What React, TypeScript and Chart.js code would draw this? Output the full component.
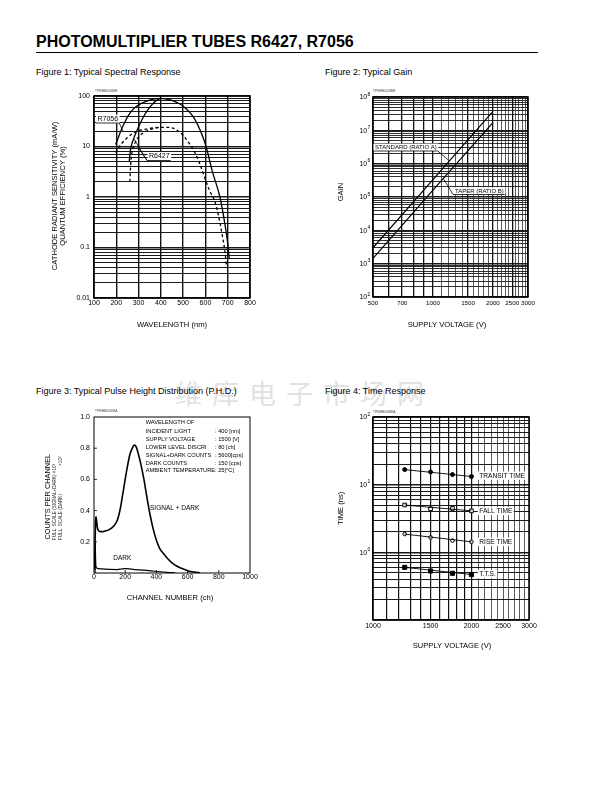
import React, { useEffect, useRef } from 'react';
import { Chart, registerables } from 'chart.js';

Chart.register(...registerables);

const FONT = 'Arial, "Liberation Sans", Helvetica, sans-serif';

// ---------- Figure 1: Typical Spectral Response ----------
const specR7056SensNm = [197, 209, 220, 231, 254, 276, 306, 336, 366, 396, 420, 450, 496, 550, 600, 632, 665, 688, 700, 707];
const specR7056SensVal = [11, 15, 20, 26, 41, 55, 69, 79, 87, 90, 88, 82, 65, 36, 11, 3.1, 1.0, 0.28, 0.12, 0.06];
const specR6427SensNm = [258, 262, 268, 276, 291, 306, 321, 336, 351, 366, 381, 396];
const specR6427SensVal = [5, 7.5, 10.5, 13.5, 20, 28, 38, 49, 60, 72, 82, 89];
const specR7056QeNm = [198, 210, 231, 250, 276, 300, 321, 350, 396, 430, 456, 480, 500, 525, 550, 575, 600, 620, 643, 660, 675, 688, 695];
const specR7056QeVal = [7.5, 9.5, 12.4, 15, 18.4, 20.5, 21.5, 22.8, 24, 24, 23, 20, 16.5, 12, 8, 4.5, 2.2, 1.3, 0.8, 0.4, 0.18, 0.08, 0.04];
const specR6427QeNm = [261, 264, 268, 276, 291, 306, 330, 351, 375, 396];
const specR6427QeVal = [2, 4, 6.5, 9.5, 13.5, 16.5, 19.5, 21.5, 23, 24];
const specXTicks = [100, 200, 300, 400, 500, 600, 700, 800];
const specYDecades = [0.01, 0.1, 1, 10, 100];
const specYLabels = ['0.01', '0.1', '1', '10', '100'];

// ---------- Figure 2: Typical Gain ----------
const gainVolt = [500, 1000, 2000];
const gainStandard = [3.0e3, 3.3e5, 3.7e7];
const gainTaper = [1.45e3, 1.6e5, 1.7e7];
const gainXLabels = [500, 700, 1000, 1500, 2000, 2500, 3000];
const gainYExp = [2, 3, 4, 5, 6, 7, 8];

// ---------- Figure 3: Pulse Height Distribution ----------
const phdSigCh = [4, 7, 10, 13, 17, 22, 30, 40, 55, 75, 100, 125, 150, 170, 190, 210, 230, 245, 258, 270, 285, 300, 320, 340, 360, 380, 400, 420, 445, 470, 500, 530, 560, 600, 640, 680];
const phdSigVal = [0.02, 0.2, 0.33, 0.36, 0.33, 0.29, 0.27, 0.265, 0.265, 0.27, 0.28, 0.3, 0.34, 0.42, 0.54, 0.66, 0.76, 0.8, 0.82, 0.81, 0.76, 0.7, 0.6, 0.48, 0.37, 0.28, 0.21, 0.16, 0.125, 0.095, 0.065, 0.045, 0.03, 0.015, 0.006, 0.002];
const phdDarkCh = [7, 8, 10, 13, 20, 50, 100, 150, 180, 200, 230, 270, 320, 370, 420, 470, 520];
const phdDarkVal = [0, 0.2, 0.1, 0.04, 0.03, 0.026, 0.023, 0.022, 0.027, 0.028, 0.026, 0.022, 0.018, 0.013, 0.008, 0.004, 0.001];
const phdXTicks = [0, 200, 400, 600, 800, 1000];
const phdYTicks = [0, 0.2, 0.4, 0.6, 0.8, 1.0];
const phdInfoKeys = ['WAVELENGTH OF', 'INCIDENT LIGHT', 'SUPPLY VOLTAGE', 'LOWER LEVEL DISCRI', 'SIGNAL+DARK COUNTS', 'DARK COUNTS', 'AMBIENT TEMPERATURE'];
const phdInfoVals = ['', ': 400 [nm]', ': 1500 [V]', ': 80 [ch]', ': 5600[cps]', ': 150 [cps]', ': 25[°C]'];

// ---------- Figure 4: Time Response ----------
const trVolt = [1250, 1500, 1750, 2000];
const trTransit = [16.7, 15.4, 14.1, 13.2];
const trFall = [5.0, 4.4, 4.45, 4.1];
const trRise = [1.86, 1.66, 1.49, 1.43];
const trTts = [0.6, 0.53, 0.49, 0.47];
const trXLabels = [1000, 1500, 2000, 2500, 3000];
const trYExp = [0, 1, 2];

// ---------- helpers ----------
const pts = (xs: number[], ys: number[]) => xs.map((x, i) => ({ x, y: ys[i] }));
const stepTicks = (a: number, b: number, s: number) => {
  const r: number[] = [];
  for (let v = a; v <= b + 1e-9; v += s) r.push(+v.toFixed(6));
  return r;
};
const logTicks = (min: number, max: number) => {
  const r: number[] = [];
  for (let e = Math.floor(Math.log10(min)); e <= Math.ceil(Math.log10(max)); e++) {
    for (let m = 1; m < 10; m++) {
      const v = +(m * Math.pow(10, e)).toPrecision(6);
      if (v >= min * 0.999999 && v <= max * 1.000001) r.push(v);
    }
  }
  return r;
};
const isDecade = (v: number) => Math.abs(Math.log10(v) - Math.round(Math.log10(v))) < 1e-6;
const near = (v: number, list: number[]) => list.some((t) => Math.abs(t - v) < 1e-6 * Math.max(1, Math.abs(t)));

type AxisOpt = {
  type: 'linear' | 'logarithmic';
  min: number;
  max: number;
  ticks: number[];
  size: number;
  vertical: boolean;
  pad: number;
  fontSize?: number;
  label?: (v: number) => string;
  gridWidth?: (v: number) => number;
  gridColor?: (v: number) => string;
};
function axis(o: AxisOpt) {
  return {
    type: o.type,
    min: o.min,
    max: o.max,
    afterBuildTicks: (s: any) => {
      s.ticks = o.ticks.map((v) => ({ value: v }));
    },
    afterFit: (s: any) => {
      if (o.vertical) s.width = o.size;
      else s.height = o.size;
      s.paddingLeft = 0;
      s.paddingRight = 0;
      s.paddingTop = 0;
      s.paddingBottom = 0;
    },
    border: { display: false },
    grid: o.gridWidth
      ? {
          display: true,
          drawTicks: false,
          color: (c: any) => (c.tick && o.gridColor ? o.gridColor(c.tick.value) : '#111'),
          lineWidth: (c: any) => (c.tick && o.gridWidth ? o.gridWidth(c.tick.value) : 1),
        }
      : { display: false, drawTicks: false },
    ticks: {
      autoSkip: false,
      maxRotation: 0,
      minRotation: 0,
      padding: o.pad,
      color: '#000',
      font: { family: FONT, size: o.fontSize || 7 },
      callback: (v: any) => (o.label ? o.label(Number(v)) : ''),
    },
  };
}

function baseOptions(pad: { top: number; right: number }) {
  return {
    responsive: false,
    animation: false as const,
    devicePixelRatio: 1,
    events: [] as any[],
    layout: { autoPadding: false, padding: { left: 0, right: pad.right, top: pad.top, bottom: 0 } },
    plugins: { legend: { display: false }, tooltip: { enabled: false }, title: { display: false } },
  };
}

type TOpt = { rot?: number; color?: string; bg?: boolean; bold?: boolean };
function text(ctx: CanvasRenderingContext2D, s: string, x: number, y: number, size: number, align: CanvasTextAlign = 'left', o: TOpt = {}) {
  ctx.save();
  ctx.font = `${o.bold ? 'bold ' : ''}${size}px ${FONT}`;
  ctx.textAlign = align;
  ctx.textBaseline = 'middle';
  ctx.translate(x, y);
  if (o.rot) ctx.rotate(o.rot);
  const w = ctx.measureText(s).width;
  if (o.bg) {
    const x0 = align === 'center' ? -w / 2 : align === 'right' ? -w : 0;
    ctx.fillStyle = '#fff';
    ctx.fillRect(x0 - 1.5, -size * 0.62, w + 3, size * 1.24);
  }
  ctx.fillStyle = o.color || '#000';
  ctx.fillText(s, 0, 0);
  ctx.restore();
  return w;
}
function poly(ctx: CanvasRenderingContext2D, p: number[][], lw = 0.8) {
  ctx.save();
  ctx.strokeStyle = '#000';
  ctx.lineWidth = lw;
  ctx.beginPath();
  p.forEach(([x, y], i) => (i ? ctx.lineTo(x, y) : ctx.moveTo(x, y)));
  ctx.stroke();
  ctx.restore();
}
function pow10(ctx: CanvasRenderingContext2D, e: number, xr: number, y: number) {
  ctx.save();
  ctx.fillStyle = '#000';
  ctx.textBaseline = 'middle';
  ctx.textAlign = 'left';
  ctx.font = `7px ${FONT}`;
  const wb = ctx.measureText('10').width;
  ctx.font = `5px ${FONT}`;
  const we = ctx.measureText(String(e)).width;
  const x0 = xr - wb - we;
  ctx.font = `7px ${FONT}`;
  ctx.fillText('10', x0, y + 0.5);
  ctx.font = `5px ${FONT}`;
  ctx.fillText(String(e), x0 + wb + 0.3, y - 2.8);
  ctx.restore();
}
const frame = (lw: number) => ({
  id: 'frame',
  afterDatasetsDraw(chart: any) {
    const { ctx, chartArea: a } = chart;
    ctx.save();
    ctx.strokeStyle = '#000';
    ctx.lineWidth = lw;
    ctx.strokeRect(a.left, a.top, a.right - a.left, a.bottom - a.top);
    ctx.restore();
  },
});
const ROT = -Math.PI / 2;

// ---------- chart builders ----------
function makeSpectral(cv: HTMLCanvasElement) {
  const solid = { borderColor: '#000', borderWidth: 1.3, pointRadius: 0, cubicInterpolationMode: 'monotone' as const, fill: false };
  const dashed = { ...solid, borderDash: [3, 2.5] };
  return new Chart(cv, {
    type: 'line',
    data: {
      datasets: [
        { ...solid, data: pts(specR7056SensNm, specR7056SensVal) },
        { ...solid, data: pts(specR6427SensNm, specR6427SensVal) },
        { ...dashed, data: pts(specR7056QeNm, specR7056QeVal) },
        { ...dashed, data: pts(specR6427QeNm, specR6427QeVal) },
      ],
    },
    options: {
      ...baseOptions({ top: 11, right: 10 }),
      scales: {
        x: axis({ type: 'linear', min: 100, max: 800, ticks: specXTicks, size: 37, vertical: false, pad: 1, label: (v) => String(v), gridWidth: () => 1.4, gridColor: () => '#111' }),
        y: axis({
          type: 'logarithmic', min: 0.01, max: 100, ticks: logTicks(0.01, 100), size: 64, vertical: true, pad: 4,
          label: (v) => { const i = specYDecades.findIndex((d) => Math.abs(d - v) < d * 1e-6); return i >= 0 ? specYLabels[i] : ''; },
          gridWidth: (v) => (isDecade(v) ? 1.5 : 1), gridColor: () => '#1a1a1a',
        }),
      },
    } as any,
    plugins: [
      frame(1.5),
      {
        id: 'deco1',
        afterDraw(chart: any) {
          const ctx = chart.ctx as CanvasRenderingContext2D;
          text(ctx, 'TPMHB0026EB', 65, 6, 3.2, 'left', { color: '#444' });
          text(ctx, 'CATHODE RADIANT SENSITIVITY (mA/W)', 25, 111, 7.6, 'center', { rot: ROT });
          text(ctx, 'QUANTUM EFFICIENCY (%)', 33, 111, 7.6, 'center', { rot: ROT });
          text(ctx, 'WAVELENGTH (nm)', 142, 239.5, 7.6, 'center');
          const w1 = text(ctx, 'R7056', 67.5, 34, 7, 'left', { bg: true });
          poly(ctx, [[66, 38], [67.5 + w1 + 1, 38], [93, 46]]);
          const w2 = text(ctx, 'R6427', 119, 71.5, 7, 'left', { bg: true });
          poly(ctx, [[119 + w2 + 1, 75.5], [117, 75.5], [104, 54]]);
          poly(ctx, [[117, 75.5], [108, 62]]);
        },
      },
    ],
  });
}

function makeGain(cv: HTMLCanvasElement) {
  const ln = { borderColor: '#000', borderWidth: 1.2, pointRadius: 0, tension: 0, fill: false };
  return new Chart(cv, {
    type: 'line',
    data: {
      datasets: [
        { ...ln, data: pts(gainVolt, gainStandard) },
        { ...ln, data: pts(gainVolt, gainTaper) },
      ],
    },
    options: {
      ...baseOptions({ top: 12, right: 22 }),
      scales: {
        x: axis({
          type: 'logarithmic', min: 500, max: 3000, ticks: stepTicks(500, 3000, 100), size: 38, vertical: false, pad: 3, fontSize: 6.2,
          label: (v) => (near(v, gainXLabels) ? String(v) : ''),
          gridWidth: (v) => (v <= 1000 || v % 500 === 0 ? 1.3 : 0.8), gridColor: (v) => (v <= 1000 || v % 500 === 0 ? '#111' : '#333'),
        }),
        y: axis({
          type: 'logarithmic', min: 100, max: 1e8, ticks: logTicks(100, 1e8), size: 53, vertical: true, pad: 3,
          gridWidth: (v) => (isDecade(v) ? 1.4 : 0.9), gridColor: () => '#1a1a1a',
        }),
      },
    } as any,
    plugins: [
      frame(1.5),
      {
        id: 'deco2',
        afterDraw(chart: any) {
          const ctx = chart.ctx as CanvasRenderingContext2D;
          const y = chart.scales.y;
          gainYExp.forEach((e) => pow10(ctx, e, chart.chartArea.left - 3, y.getPixelForValue(Math.pow(10, e))));
          text(ctx, 'TPMHB0023EB', 53, 6, 3.2, 'left', { color: '#444' });
          text(ctx, 'GAIN', 20.7, 107, 7.6, 'center', { rot: ROT });
          text(ctx, 'SUPPLY VOLTAGE (V)', 127, 239.5, 7.6, 'center');
          const w1 = text(ctx, 'STANDARD (RATIO A)', 55, 62.3, 6, 'left', { bg: true });
          poly(ctx, [[53, 66], [55 + w1 + 1, 66], [128.3, 75]]);
          const w2 = text(ctx, 'TAPER (RATIO B)', 135, 106, 6, 'left', { bg: true });
          poly(ctx, [[135 + w2 + 1, 109.5], [133, 109.5], [123.3, 93.3]]);
        },
      },
    ],
  });
}

function makePhd(cv: HTMLCanvasElement) {
  const ln = { borderColor: '#000', pointRadius: 0, cubicInterpolationMode: 'monotone' as const, fill: false };
  return new Chart(cv, {
    type: 'line',
    data: {
      datasets: [
        { ...ln, borderWidth: 1.6, data: pts(phdSigCh, phdSigVal) },
        { ...ln, borderWidth: 1.2, data: pts(phdDarkCh, phdDarkVal) },
      ],
    },
    options: {
      ...baseOptions({ top: 37, right: 20 }),
      scales: {
        x: axis({ type: 'linear', min: 0, max: 1000, ticks: phdXTicks, size: 67, vertical: false, pad: 0, label: (v) => String(v) }),
        y: axis({ type: 'linear', min: 0, max: 1, ticks: phdYTicks, size: 64, vertical: true, pad: 4, label: (v) => (v === 0 ? '' : v.toFixed(1)) }),
      },
    } as any,
    plugins: [
      frame(1),
      {
        id: 'deco3',
        afterDraw(chart: any) {
          const ctx = chart.ctx as CanvasRenderingContext2D;
          const a = chart.chartArea;
          const xs = chart.scales.x;
          const ys = chart.scales.y;
          phdXTicks.slice(1, -1).forEach((v) => {
            const px = xs.getPixelForValue(v);
            poly(ctx, [[px, a.bottom], [px, a.bottom - 3]], 0.8);
          });
          phdYTicks.slice(1, -1).forEach((v) => {
            const py = ys.getPixelForValue(v);
            poly(ctx, [[a.left, py], [a.left + 3, py]], 0.8);
          });
          text(ctx, 'TPMHB0020EA', 65, 31, 3.2, 'left', { color: '#444' });
          text(ctx, 'COUNTS PER CHANNEL', 18.3, 116.7, 7.4, 'center', { rot: ROT });
          ctx.save();
          ctx.translate(25, 160);
          ctx.rotate(ROT);
          text(ctx, 'FULL  SCALE (SIGNAL+DARK) ×10³', 0, 0, 4.6, 'left', { color: '#222' });
          ctx.restore();
          ctx.save();
          ctx.translate(30.3, 160);
          ctx.rotate(ROT);
          text(ctx, 'FULL  SCALE (DARK)', 0, 0, 4.6, 'left', { color: '#222' });
          text(ctx, ': ×10²', 83.5, 0, 4.6, 'right', { color: '#222' });
          ctx.restore();
          const rows = [42.3, 51.5, 59.3, 67.3, 75.3, 83, 90.7];
          phdInfoKeys.forEach((k, i) => {
            text(ctx, k, 115.7, rows[i], 5.7, 'left');
            if (phdInfoVals[i]) text(ctx, phdInfoVals[i], 185, rows[i], 5.7, 'left');
          });
          text(ctx, 'SIGNAL + DARK', 120, 128.3, 6.5, 'left');
          text(ctx, 'DARK', 83.3, 178.3, 6.5, 'left');
          text(ctx, 'CHANNEL NUMBER (ch)', 140, 218.3, 7.6, 'center');
        },
      },
    ],
  });
}

function makeTime(cv: HTMLCanvasElement) {
  const fit = (ys: number[]) => ({
    borderColor: '#000', borderWidth: 0.9, pointRadius: 0, tension: 0, fill: false,
    data: [{ x: trVolt[0], y: ys[0] }, { x: trVolt[trVolt.length - 1], y: ys[ys.length - 1] }],
  });
  const mk = (ys: number[], style: string, r: number, filled: boolean) => ({
    showLine: false, data: pts(trVolt, ys), pointStyle: style, pointRadius: r,
    pointBackgroundColor: filled ? '#000' : '#fff', pointBorderColor: '#000', pointBorderWidth: 1,
  });
  return new Chart(cv, {
    type: 'line',
    data: {
      datasets: [
        fit(trTransit), fit(trFall), fit(trRise), fit(trTts),
        mk(trTransit, 'circle', 2, true),
        mk(trFall, 'rect', 2.6, false),
        mk(trRise, 'circle', 1.8, false),
        mk(trTts, 'rect', 2.9, true),
      ] as any,
    },
    options: {
      ...baseOptions({ top: 37, right: 21 }),
      scales: {
        x: axis({
          type: 'logarithmic', min: 1000, max: 3000, ticks: stepTicks(1000, 3000, 100), size: 40, vertical: false, pad: 2,
          label: (v) => (near(v, trXLabels) ? String(v) : ''),
          gridWidth: (v) => (v <= 2000 ? 1.2 : 0.8), gridColor: (v) => (v <= 2000 ? '#111' : '#333'),
        }),
        y: axis({
          type: 'logarithmic', min: 0.1, max: 100, ticks: logTicks(0.1, 100), size: 53, vertical: true, pad: 3,
          gridWidth: (v) => (isDecade(v) ? 1.5 : 1), gridColor: () => '#1a1a1a',
        }),
      },
    } as any,
    plugins: [
      frame(1.5),
      {
        id: 'deco4',
        afterDraw(chart: any) {
          const ctx = chart.ctx as CanvasRenderingContext2D;
          const y = chart.scales.y;
          trYExp.forEach((e) => pow10(ctx, e, chart.chartArea.left - 3, y.getPixelForValue(Math.pow(10, e))));
          text(ctx, 'TPMHB0038EA', 53, 32, 3.2, 'left', { color: '#444' });
          text(ctx, 'TIME (ns)', 20.7, 128.3, 7.6, 'center', { rot: ROT });
          text(ctx, 'SUPPLY VOLTAGE (V)', 132, 265.7, 7.6, 'center');
          text(ctx, 'TRANSIT TIME', 159.3, 95.7, 6.6, 'left', { bg: true });
          text(ctx, 'FALL TIME', 159.3, 131, 6.6, 'left', { bg: true });
          text(ctx, 'RISE TIME', 159.3, 161.7, 6.6, 'left', { bg: true });
          text(ctx, 'T.T.S.', 159.3, 194, 6.6, 'left', { bg: true });
        },
      },
    ],
  });
}

const cap: React.CSSProperties = { position: 'absolute', fontSize: 9, lineHeight: '9px', whiteSpace: 'nowrap', color: '#000' };

export default function App() {
  const c1 = useRef<HTMLCanvasElement>(null);
  const c2 = useRef<HTMLCanvasElement>(null);
  const c3 = useRef<HTMLCanvasElement>(null);
  const c4 = useRef<HTMLCanvasElement>(null);
  useEffect(() => {
    const charts = [makeSpectral(c1.current!), makeGain(c2.current!), makePhd(c3.current!), makeTime(c4.current!)];
    return () => charts.forEach((c) => c.destroy());
  }, []);
  return (
    <div style={{ position: 'absolute', left: 0, top: 0, width: 612, height: 792, background: '#fff', fontFamily: FONT, overflow: 'hidden' }}>
      <div style={{ position: 'absolute', left: 175, top: 379, fontFamily: '"Noto Sans CJK SC"', fontSize: 27, lineHeight: '27px', color: '#e2e2e2', letterSpacing: 10, whiteSpace: 'nowrap' }}>维库电子市场网</div>
      <div style={{ position: 'absolute', left: 36, top: 34, fontSize: 16, lineHeight: '16px', fontWeight: 'bold', whiteSpace: 'nowrap' }}>PHOTOMULTIPLIER TUBES R6427, R7056</div>
      <div style={{ position: 'absolute', left: 36, top: 52, width: 502, height: 1, background: '#000' }} />
      <div style={{ ...cap, left: 36, top: 67.5 }}>Figure 1: Typical Spectral Response</div>
      <div style={{ ...cap, left: 325, top: 67.5 }}>Figure 2: Typical Gain</div>
      <div style={{ ...cap, left: 36, top: 387.3 }}>Figure 3: Typical Pulse Height Distribution (P.H.D.)</div>
      <div style={{ ...cap, left: 325, top: 387.3 }}>Figure 4: Time Response</div>
      <canvas ref={c1} width={230} height={250} style={{ position: 'absolute', left: 30, top: 85 }} />
      <canvas ref={c2} width={230} height={250} style={{ position: 'absolute', left: 320, top: 85 }} />
      <canvas ref={c3} width={240} height={260} style={{ position: 'absolute', left: 30, top: 380 }} />
      <canvas ref={c4} width={230} height={280} style={{ position: 'absolute', left: 320, top: 380 }} />
    </div>
  );
}
